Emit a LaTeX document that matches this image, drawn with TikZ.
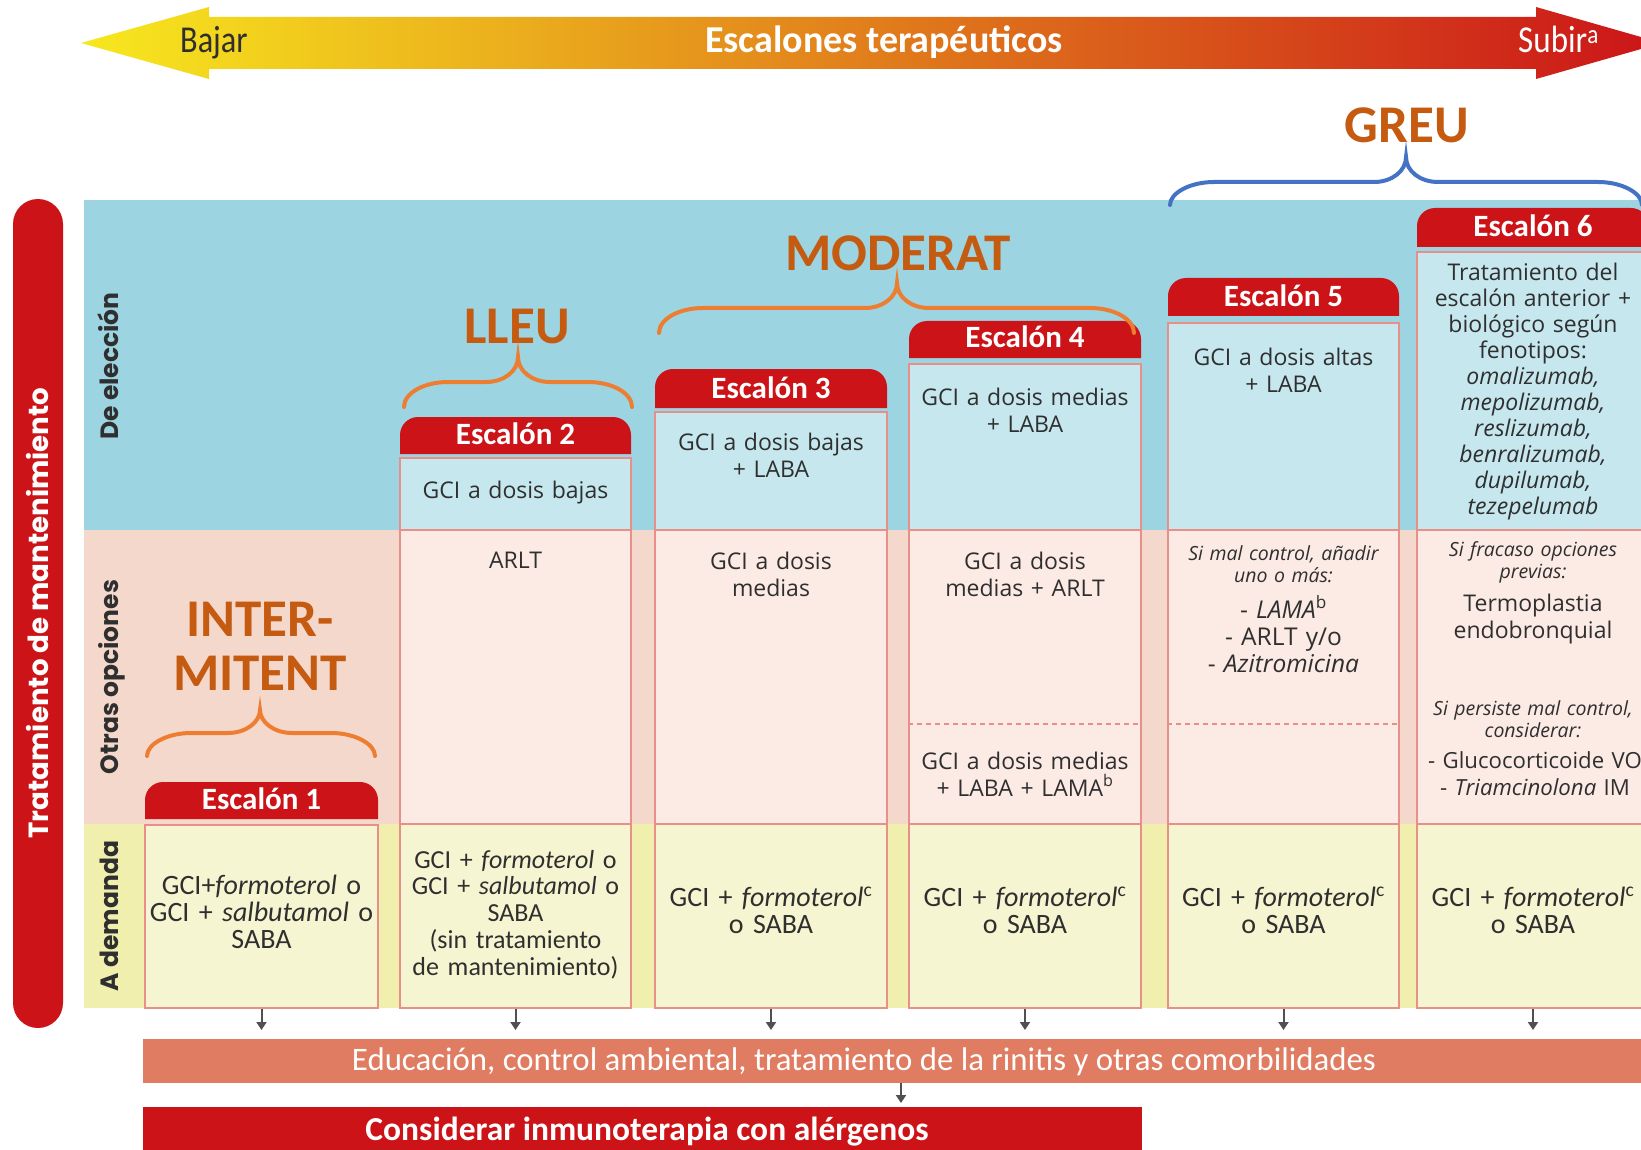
\documentclass[tikz,border=0pt]{standalone}
\usepackage{fontspec}
\setmainfont{Open Sans}
\newfontfamily\cfont{Carlito}
\newfontfamily\pfont{Poppins}
\usetikzlibrary{arrows.meta}

\definecolor{stepred}{HTML}{CC1418}
\definecolor{bandblue}{HTML}{9DD4E1}
\definecolor{cellblue}{HTML}{C6E7EE}
\definecolor{bandpink}{HTML}{F5D8CC}
\definecolor{cellpink}{HTML}{FCEAE4}
\definecolor{bandyellow}{HTML}{F1EFAE}
\definecolor{cellyellow}{HTML}{F6F5D1}
\definecolor{cellline}{HTML}{E98F8A}
\definecolor{edusalmon}{HTML}{E07C61}
\definecolor{lvlorange}{HTML}{C55A11}
\definecolor{braceorange}{HTML}{ED7D31}
\definecolor{braceblue}{HTML}{4472C4}
\definecolor{txtgrey}{HTML}{2F2F2F}
\definecolor{arrgrey}{HTML}{505050}
\definecolor{gradY}{HTML}{F7E81E}
\definecolor{gradO}{HTML}{DC741B}
\definecolor{gradR}{HTML}{CB1419}

\tikzset{
  body/.style={font=\fontsize{23}{27}\selectfont, text=txtgrey, text width=228pt,
    align=center, inner sep=0pt, anchor=base},
  bodytight/.style={body, font=\fontsize{23}{25.9}\selectfont},
  bodysmall/.style={body, font=\fontsize{22.2}{27}\selectfont},
  listtext/.style={body, font=\fontsize{24.5}{27}\selectfont},
  note/.style={font=\fontsize{19.5}{22.5}\selectfont\itshape, text=txtgrey, text width=240pt,
    align=center, inner sep=0pt, anchor=base},
  demand/.style={font=\cfont\fontsize{28}{27}\selectfont, text=txtgrey, text width=230pt,
    align=center, inner sep=0pt, anchor=base},
  demandsmall/.style={demand, font=\cfont\fontsize{26}{26.8}\selectfont},
  tabtext/.style={font=\cfont\bfseries\fontsize{31}{31}\selectfont, text=white,
    inner sep=0pt, anchor=base},
  level/.style={font=\cfont\bfseries\fontsize{53}{54}\selectfont, text=lvlorange,
    text width=300pt, align=center, inner sep=0pt, anchor=base},
  rowlabel/.style={font=\pfont\bfseries\fontsize{25}{25}\selectfont, text=txtgrey,
    rotate=90, inner sep=0pt, anchor=base},
  cellbox/.style={draw=cellline, line width=1.8pt, inner sep=0pt},
  cellrule/.style={draw=cellline, line width=1.8pt},
  celldash/.style={draw=cellline, line width=1.2pt, dash pattern=on 5pt off 4pt},
  bracepath/.style={line width=4pt, line cap=round},
  downarr/.style={draw=arrgrey, line width=2pt, -{Triangle[length=8pt,width=10pt]}},
}

% curly brace: x-left, x-right, x-tip, y-tip, y-level, y-ends, colour
\newcommand\curlybrace[7]{%
  \draw[bracepath, draw=#7]
    (#1,#6) .. controls (#1,{#5+11}) and ({#1+20},#5) .. ({#1+44},#5)
    -- ({#3-32},#5) .. controls ({#3-14},#5) and (#3,{#5-11}) .. (#3,#4)
    .. controls (#3,{#5-11}) and ({#3+14},#5) .. ({#3+32},#5)
    -- ({#2-44},#5) .. controls ({#2-20},#5) and (#2,{#5+11}) .. (#2,#6);}

\begin{document}
\begin{tikzpicture}[x=1pt,y=-1pt]
\useasboundingbox (0,0) rectangle (1641,1150);
\clip (0,0) rectangle (1641,1150);
\fill[white] (0,0) rectangle (1641,1150);

% band boundaries
\coordinate (b1) at (0,530);
\coordinate (b2) at (0,824);
\coordinate (dl) at (0,724);

% top arrow of therapeutic steps
\shade[left color=gradY, middle color=gradO, right color=gradR]
  (81,43) -- (209,7) -- (209,17) -- (1536,17) -- (1536,7) -- (1662,43)
  -- (1536,79) -- (1536,69) -- (209,69) -- (209,79) -- cycle;
\node[font=\cfont\fontsize{38}{38}\selectfont, text=txtgrey, anchor=base west, inner sep=0pt]
  (bajar) at (180,53) {\scalebox{0.85}[1]{Bajar}};
\node[font=\cfont\bfseries\fontsize{38}{38}\selectfont, text=white, anchor=base, inner sep=0pt]
  (escalones) at (884,53) {Escalones terapéuticos};
\node[font=\cfont\fontsize{38}{38}\selectfont, text=white, anchor=base west, inner sep=0pt]
  (subir) at (1518,53) {\scalebox{0.87}[1]{Subir\textsuperscript{a}}};

% background bands
\fill[bandblue] (84,200) rectangle (1660,530);
\fill[bandpink] (84,530) rectangle (1660,824);
\fill[bandyellow] (84,824) rectangle (1660,1008);

% left vertical bar
\node[fill=stepred, rounded corners=25pt, minimum width=50pt, minimum height=829pt, inner sep=0pt]
  (lbar) at (38,613.5) {};
\node[font=\pfont\bfseries\fontsize{27.7}{27.7}\selectfont, text=white, rotate=90, anchor=base, inner sep=0pt]
  (lbartext) at (48.5,613) {Tratamiento de mantenimiento};

% row labels
\node[rowlabel] (row1) at (118,366) {De elección};
\node[rowlabel] (row2) at (118,677) {Otras opciones};
\node[rowlabel] (row3) at (118,916) {A demanda};

% step 1 cell (on-demand row only)
\fill[cellyellow] (145,825) rectangle (378,1008);
\node[cellbox, minimum width=233pt, minimum height=183pt] (col1) at (261.5,916.5) {};

% step 2 to 6 cells
\foreach \n/\xa/\xb/\yt in {2/400/631/458, 3/655/887/412, 4/909/1141/364, 5/1168/1399/323, 6/1417/1649/252} {
  \fill[cellblue] (\xa,\yt) rectangle (\xb,530);
  \fill[cellpink] (\xa,530) rectangle (\xb,824);
  \fill[cellyellow] (\xa,824) rectangle (\xb,1008);
  \node[cellbox, minimum width={(\xb-\xa)*1pt}, minimum height={(1008-\yt)*1pt}]
    (col\n) at ({(\xa+\xb)/2},{(\yt+1008)/2}) {};
  \draw[cellrule] (col\n.west |- b1) -- (col\n.east |- b1);
  \draw[cellrule] (col\n.west |- b2) -- (col\n.east |- b2);
}
\draw[celldash] (col4.west |- dl) -- (col4.east |- dl);
\draw[celldash] (col5.west |- dl) -- (col5.east |- dl);

% step tabs
\foreach \n/\xa/\xb/\ya/\yb in {1/145/378/782/819, 2/400/631/417/454, 3/655/887/369/408,
    4/909/1141/321/358, 5/1168/1399/278/316, 6/1417/1649/208/247} {
  \fill[stepred] (\xa,\yb) -- (\xa,\ya+18) arc[start angle=180, end angle=270, radius=18]
    -- (\xb-18,\ya) arc[start angle=270, end angle=360, radius=18] -- (\xb,\yb) -- cycle;
  \node[tabtext] (tab\n) at ({(\xa+\xb)/2},\yb-10) {Escalón \n};
}

% step 1
\node[demand] (s1d) at (261.5,894) {GCI+\textit{formoterol} o\\GCI + \textit{salbutamol} o\\SABA};

% step 2
\node[body] (s2a) at (515.5,498) {GCI a dosis bajas};
\node[body] (s2b) at (515.5,568) {ARLT};
\node[demandsmall] (s2d) at (515.5,868) {GCI + \textit{formoterol} o\\GCI + \textit{salbutamol} o\\SABA\\(sin tratamiento\\de mantenimiento)};

% step 3
\node[body] (s3a) at (771,450) {GCI a dosis bajas\\+ LABA};
\node[body] (s3b) at (771,569) {GCI a dosis\\medias};
\node[demand] (s3d) at (771,906) {GCI + \textit{formoterol}\textsuperscript{c}\\o SABA};

% step 4
\node[body] (s4a) at (1025,405) {GCI a dosis medias\\+ LABA};
\node[body] (s4b) at (1025,569) {GCI a dosis\\medias + ARLT};
\node[body] (s4c) at (1025,769) {GCI a dosis medias\\+ LABA + LAMA\textsuperscript{b}};
\node[demand] (s4d) at (1025,906) {GCI + \textit{formoterol}\textsuperscript{c}\\o SABA};

% step 5
\node[body] (s5a) at (1283.5,365) {GCI a dosis altas\\+ LABA};
\node[note] (s5n) at (1283.5,560) {Si mal control, añadir\\uno o más:};
\node[listtext] (s5b) at (1283.5,618) {- \textit{LAMA}\textsuperscript{b}\\- ARLT y/o\\- \textit{Azitromicina}};
\node[demand] (s5d) at (1283.5,906) {GCI + \textit{formoterol}\textsuperscript{c}\\o SABA};

% step 6
\node[bodytight] (s6a) at (1533,281) {Tratamiento del\\escalón anterior +\\biológico según\\fenotipos:\\\textit{omalizumab,}\\\textit{mepolizumab,}\\\textit{reslizumab,}\\\textit{benralizumab,}\\\textit{dupilumab,}\\\textit{tezepelumab}};
\node[note] (s6n) at (1533,556) {Si fracaso opciones\\previas:};
\node[body] (s6b) at (1533,611) {Termoplastia\\endobronquial};
\node[note] (s6m) at (1533,715) {Si persiste mal control,\\considerar:};
\node[bodysmall] (s6c) at (1535,768) {- Glucocorticoide VO\\- \textit{Triamcinolona} IM};
\node[demand] (s6d) at (1533,906) {GCI + \textit{formoterol}\textsuperscript{c}\\o SABA};

% severity levels and braces
\node[level] (lint) at (260,636) {INTER-\\MITENT};
\node[level] (llleu) at (517,343) {LLEU};
\node[level] (lmod) at (898,271) {MODERAT};
\node[level] (lgreu) at (1407,143) {GREU};
\curlybrace{147}{375}{260}{710}{733}{756}{braceorange}
\curlybrace{404}{632}{518}{357}{382}{407}{braceorange}
\curlybrace{659}{1134}{897}{283}{308}{333}{braceorange}
\curlybrace{1170}{1642}{1406}{157}{182}{205}{braceblue}

% common measures bar and immunotherapy bar
\node[fill=edusalmon, minimum width=1517pt, minimum height=44pt, inner sep=0pt, anchor=north west]
  (edu) at (143,1039) {};
\node[font=\cfont\fontsize{32.8}{32.8}\selectfont, text=white, anchor=base, inner sep=0pt]
  (edutext) at (864,1070) {Educación, control ambiental, tratamiento de la rinitis y otras comorbilidades};
\node[fill=stepred, minimum width=999pt, minimum height=50pt, inner sep=0pt, anchor=north west]
  (imm) at (143,1107) {};
\node[font=\cfont\bfseries\fontsize{33.5}{33.5}\selectfont, text=white, anchor=base, inner sep=0pt]
  (immtext) at (647,1140) {Considerar inmunoterapia con alérgenos};

% arrows down to the common measures
\foreach \n in {1,...,6}
  \draw[downarr, shorten >=9pt] (col\n.south) -- (col\n.south |- edu.north);
\coordinate (ax) at (901,0);
\draw[downarr, shorten >=4pt] (edu.south -| ax) -- (imm.north -| ax);
\end{tikzpicture}
\end{document}
